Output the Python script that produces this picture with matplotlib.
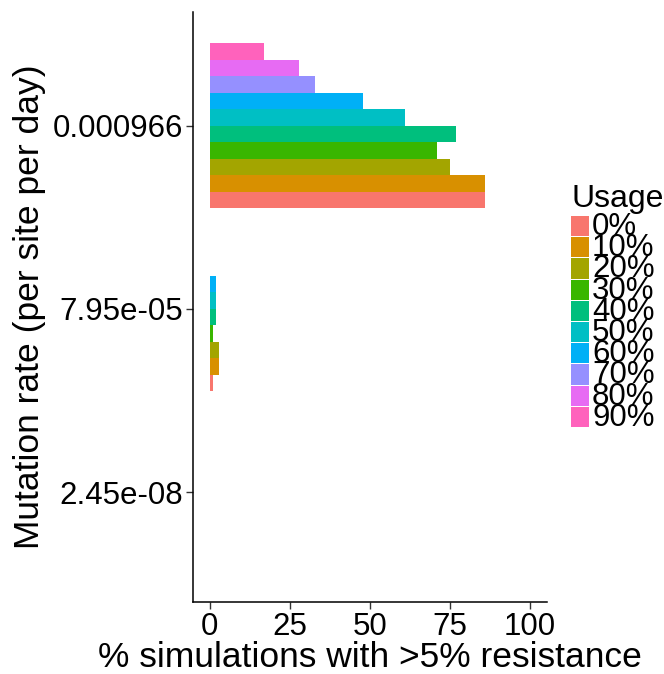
import numpy as np
import matplotlib
matplotlib.use("Agg")
import matplotlib.pyplot as plt
from matplotlib.patches import Rectangle

plt.rcParams["font.family"] = ["Liberation Sans", "DejaVu Sans"]

# data
rates = ["2.45e-08", "7.95e-05", "0.000966"]   # bottom -> top
usage = ["0%", "10%", "20%", "30%", "40%", "50%", "60%", "70%", "80%", "90%"]
colors = ["#F8766D", "#D89000", "#A3A500", "#39B600", "#00BF7D",
          "#00BFC4", "#00B0F6", "#9590FF", "#E76BF3", "#FF62BC"]
pct_low = [0, 0, 0, 0, 0, 0, 0, 0, 0, 0]
pct_mid = [1, 3, 3, 1, 2, 2, 2, 0, 0, 0]
pct_high = [86, 86, 75, 71, 77, 61, 48, 33, 28, 17]

W, H = 664, 674
fig = plt.figure(figsize=(W / 100, H / 100), dpi=100)
ax = fig.add_axes([193 / W, 1 - 602 / H, (547 - 193) / W, (602 - 12) / H])

vals = np.array([pct_low, pct_mid, pct_high])  # rate x usage
ypos = np.arange(1, len(rates) + 1)
n = len(usage)
bw = 0.9 / n
for i in range(n):
    off = -0.45 + bw * (i + 0.5)
    ax.barh(ypos + off, vals[:, i], height=bw, color=colors[i], linewidth=0)

ax.set_xlim(-5.2, 105.4)
ax.set_ylim(0.4, 3.62)
ax.set_xticks([0, 25, 50, 75, 100])
ax.set_yticks(ypos)
ax.set_yticklabels(rates)
ax.tick_params(labelsize=22.5, length=5, width=1, pad=2, color="#333333")
for s in ["top", "right"]:
    ax.spines[s].set_visible(False)
for s in ["left", "bottom"]:
    ax.spines[s].set_linewidth(1.1)
ax.set_xlabel("% simulations with >5% resistance", fontsize=25.5)
ax.set_ylabel("Mutation rate (per site per day)", fontsize=25.5)
ax.xaxis.set_label_coords(0.5, -(641 - 602) / 590)
ax.yaxis.set_label_coords(-(193 - 46) / 354, 0.5)

# legend (ggplot-style, keys smaller than text)
fig.text(571 / W, 1 - 199 / H, "Usage", fontsize=23, va="center", ha="left")
for i, (lab, c) in enumerate(zip(usage, colors)):
    top = 216 + 21.2 * i
    fig.add_artist(Rectangle((571 / W, 1 - (top + 20.2) / H), 17.5 / W, 20.2 / H,
                             transform=fig.transFigure, facecolor=c, edgecolor="none"))
    fig.text(592 / W, 1 - (top + 11) / H, lab, fontsize=22.5, va="center", ha="left")

fig.savefig("out.png", dpi=100)
